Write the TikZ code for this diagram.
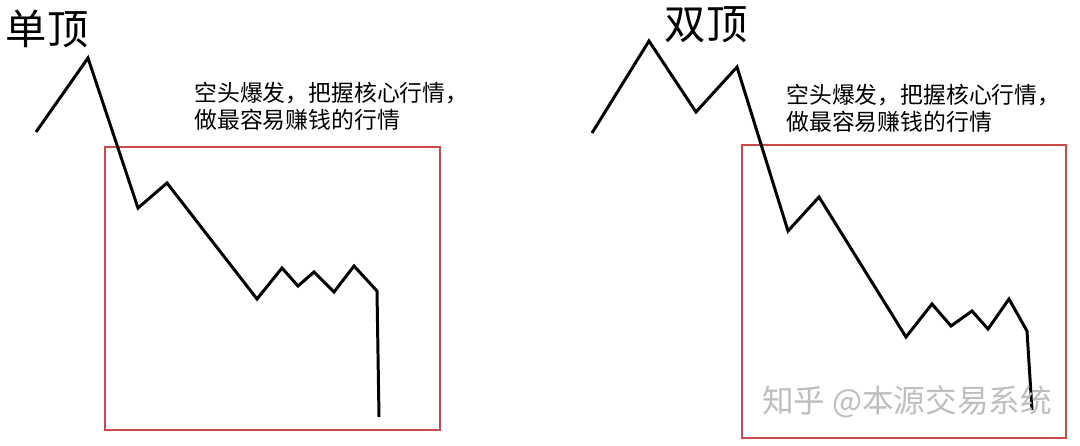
\documentclass[tikz,border=0pt]{standalone}
\usepackage{fontspec}
\setmainfont{Noto Sans CJK SC}
\definecolor{zonered}{RGB}{205,72,72}
\definecolor{markgray}{RGB}{190,190,190}
\begin{document}
\begin{tikzpicture}[x=0.02cm, y=-0.02cm,
    trend/.style={line width=1.7pt, line join=miter},
    zone/.style={draw=zonered, line width=0.9pt},
    title/.style={font=\fontsize{23.5}{28}\selectfont, inner sep=0pt},
    note/.style={font=\fontsize{13}{15.4}\selectfont, align=left, anchor=north west, inner sep=0pt},
    watermark/.style={font=\fontsize{18}{22}\selectfont, text=markgray, inner sep=0pt}]
    \useasboundingbox (0,0) rectangle (1080,446);
    % zones of the big move
    \draw[zone] (105,147) rectangle (440,430);
    \draw[zone] (742,145) rectangle (1066,438);
    % single top
    \draw[trend] (36,132) -- (88,58) -- (138,208) -- (167,183) -- (257,299)
        -- (282,268) -- (298,286) -- (314,272) -- (334,292) -- (354,266)
        -- (377,291) -- (379,417);
    % double top
    \draw[trend] (592,133) -- (649,41) -- (696,112) -- (737,67) -- (788,231)
        -- (819,197) -- (906,337) -- (932,304) -- (951,326) -- (972,311)
        -- (988,329) -- (1009,299) -- (1027,331) -- (1032,410);
    % titles
    \node[title] (singletop) at (47,29) {单顶};
    \node[title] (doubletop) at (706,25) {双顶};
    % captions
    \node[note] (singlenote) at (194,82) {空头爆发，把握核心行情，\\做最容易赚钱的行情};
    \node[note] (doublenote) at (786,84) {空头爆发，把握核心行情，\\做最容易赚钱的行情};
    % watermark
    \node[watermark] (credit) at (907,402) {知乎 @本源交易系统};
\end{tikzpicture}
\end{document}
